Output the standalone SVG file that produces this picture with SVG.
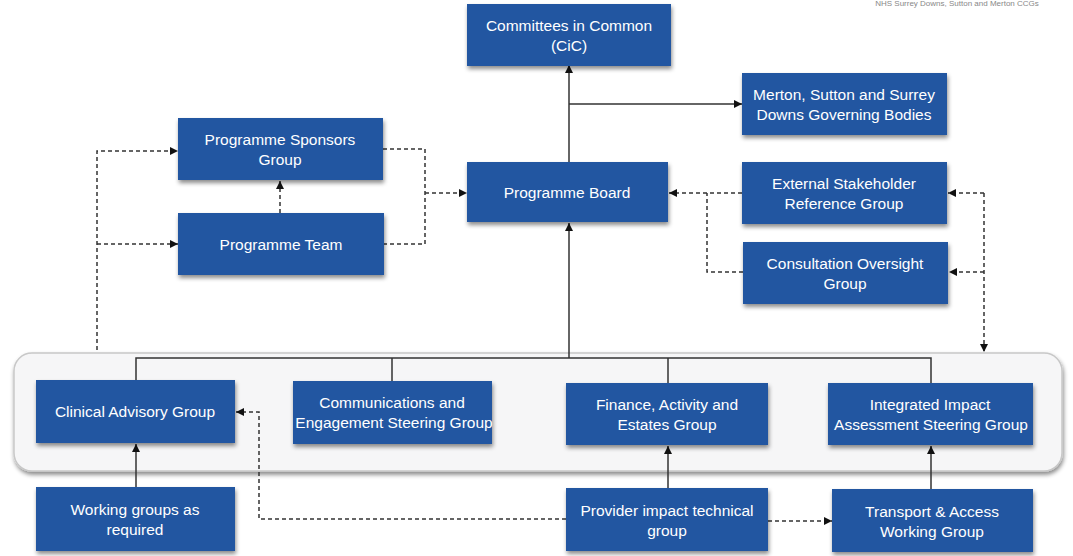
<svg xmlns="http://www.w3.org/2000/svg" width="1073" height="556" viewBox="0 0 1073 556">
<defs>
<marker id="ah" viewBox="0 0 10 10" refX="10" refY="5" markerWidth="8" markerHeight="8" markerUnits="userSpaceOnUse" orient="auto"><path d="M0,0 L10,5 L0,10 z" fill="#111"/></marker>
<filter id="sh" x="-10%" y="-10%" width="120%" height="130%"><feDropShadow dx="1" dy="3" stdDeviation="2" flood-color="#000" flood-opacity="0.45"/></filter>
</defs>
<style>
.box{fill:#2457a1;filter:url(#sh)}
.t{font-family:"Liberation Sans",Arial,sans-serif;font-size:15.5px;fill:#fff;text-anchor:middle}
.s{fill:none;stroke:#333;stroke-width:1.5}
.d{fill:none;stroke:#333;stroke-width:1.5;stroke-dasharray:4,3}
</style>
<rect width="1073" height="556" fill="#fff"/>
<text x="957" y="6" font-family="'Liberation Sans',Arial,sans-serif" font-size="8" fill="#888" text-anchor="middle">NHS Surrey Downs, Sutton and Merton CCGs</text>
<g id="container"><rect x="14" y="353" width="1048" height="118" rx="18" fill="#f6f6f7" stroke="#c8c8c8" stroke-width="1.5" filter="url(#sh)"/></g>
<g id="connectors">
<path class="s" d="M569,162 L569,65" marker-end="url(#ah)"/>
<path class="s" d="M569,104 L742,104" marker-end="url(#ah)"/>
<path class="s" d="M569,358 L569,223" marker-end="url(#ah)"/>
<path class="s" d="M136,380 L136,358 L931,358 L931,383"/>
<path class="s" d="M392,358 L392,381"/>
<path class="s" d="M668,358 L668,383"/>
<path class="s" d="M136,487 L136,444" marker-end="url(#ah)"/>
<path class="s" d="M668,488 L668,446" marker-end="url(#ah)"/>
<path class="s" d="M931,489 L931,446" marker-end="url(#ah)"/>
<path class="d" d="M97,350 L97,151 L178,151" marker-end="url(#ah)"/>
<path class="d" d="M97,244 L178,244" marker-end="url(#ah)"/>
<path class="d" d="M280,213 L280,181" marker-end="url(#ah)"/>
<path class="d" d="M383,149 L425,149 L425,244 L384,244"/>
<path class="d" d="M425,193 L467,193" marker-end="url(#ah)"/>
<path class="d" d="M742,193 L669,193" marker-end="url(#ah)"/>
<path class="d" d="M743,272 L707,272 L707,193"/>
<path class="d" d="M984,193 L948,193" marker-end="url(#ah)"/>
<path class="d" d="M984,272 L949,272" marker-end="url(#ah)"/>
<path class="d" d="M984,193 L984,352" marker-end="url(#ah)"/>
<path class="d" d="M566,519 L259,519 L259,412 L236,412" marker-end="url(#ah)"/>
<path class="d" d="M768,521 L832,521" marker-end="url(#ah)"/>
</g>
<g id="cic"><rect class="box" x="467" y="4" width="204" height="62"/><text class="t" x="569" y="31">Committees in Common</text><text class="t" x="569" y="51">(CiC)</text></g>
<g id="merton"><rect class="box" x="742" y="73" width="205" height="62"/><text class="t" x="844" y="100">Merton, Sutton and Surrey</text><text class="t" x="844" y="120">Downs Governing Bodies</text></g>
<g id="sponsors"><rect class="box" x="178" y="118" width="205" height="62"/><text class="t" x="280" y="145">Programme Sponsors</text><text class="t" x="280" y="165">Group</text></g>
<g id="board"><rect class="box" x="467" y="162" width="201" height="60"/><text class="t" x="567" y="198">Programme Board</text></g>
<g id="esrg"><rect class="box" x="742" y="162" width="205" height="62"/><text class="t" x="844" y="189">External Stakeholder</text><text class="t" x="844" y="209">Reference Group</text></g>
<g id="team"><rect class="box" x="178" y="213" width="206" height="62"/><text class="t" x="281" y="250">Programme Team</text></g>
<g id="cog"><rect class="box" x="743" y="242" width="205" height="62"/><text class="t" x="845" y="269">Consultation Oversight</text><text class="t" x="845" y="289">Group</text></g>
<g id="cag"><rect class="box" x="36" y="380" width="199" height="63"/><text class="t" x="135" y="417">Clinical Advisory Group</text></g>
<g id="comms"><rect class="box" x="293" y="381" width="199" height="63"/><text class="t" x="392" y="408">Communications and</text><text class="t" x="394" y="428">Engagement Steering Group</text></g>
<g id="finance"><rect class="box" x="566" y="383" width="202" height="62"/><text class="t" x="667" y="410">Finance, Activity and</text><text class="t" x="667" y="430">Estates Group</text></g>
<g id="iia"><rect class="box" x="828" y="383" width="205" height="62"/><text class="t" x="930" y="410">Integrated Impact</text><text class="t" x="931" y="430">Assessment Steering Group</text></g>
<g id="working"><rect class="box" x="36" y="487" width="199" height="64"/><text class="t" x="135" y="515">Working groups as</text><text class="t" x="135" y="535">required</text></g>
<g id="provider"><rect class="box" x="566" y="488" width="202" height="63"/><text class="t" x="667" y="516">Provider impact technical</text><text class="t" x="667" y="536">group</text></g>
<g id="transport"><rect class="box" x="832" y="489" width="201" height="63"/><text class="t" x="932" y="517">Transport &amp; Access</text><text class="t" x="932" y="537">Working Group</text></g>
</svg>
